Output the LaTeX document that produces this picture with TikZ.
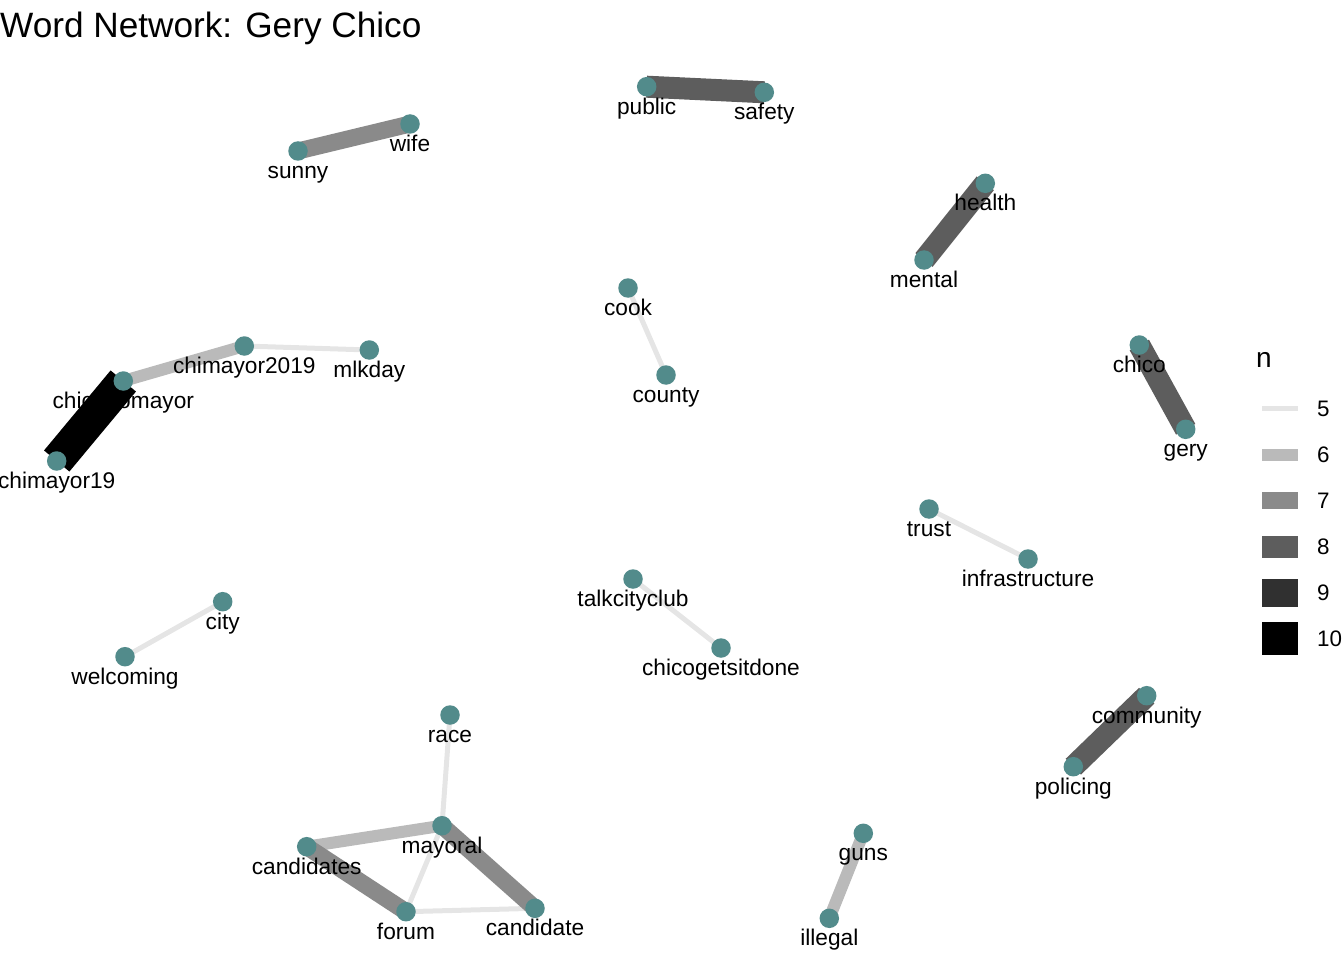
\documentclass[tikz,border=0pt]{standalone}
\usepackage{fontspec}
\setmainfont{Liberation Sans}
\usetikzlibrary{backgrounds}
\definecolor{nodecol}{HTML}{528B8B}
\definecolor{nfive}{HTML}{E5E5E5}
\definecolor{nsix}{HTML}{BABABA}
\definecolor{nseven}{HTML}{8A8A8A}
\definecolor{neight}{HTML}{5D5D5D}
\definecolor{nnine}{HTML}{303030}
\definecolor{nten}{HTML}{000000}
\begin{document}
\begin{tikzpicture}[x=1pt,y=-1pt,
  dot/.style={circle,fill=nodecol,inner sep=0pt,minimum size=19.5pt},
  lbl/.style={anchor=base,inner sep=0pt,font=\fontsize{22.7}{27}\selectfont},
  efive/.style={draw=nfive,line width=5pt,line cap=butt},
  esix/.style={draw=nsix,line width=12pt,line cap=butt},
  eseven/.style={draw=nseven,line width=17pt,line cap=butt},
  eeight/.style={draw=neight,line width=22pt,line cap=butt},
  eten/.style={draw=nten,line width=33pt,line cap=butt},
  keybox/.style={inner sep=0pt,minimum width=36pt},
  keytxt/.style={anchor=base west,inner sep=0pt,font=\fontsize{22.4}{26}\selectfont}]
\useasboundingbox (0,0) rectangle (1344,960);
\clip (0,0) rectangle (1344,960);

% nodes
\node[dot] (public) at (646.7,86.7) {};
\node[dot] (safety) at (764.3,92.3) {};
\node[dot] (sunny) at (298,151) {};
\node[dot] (wife) at (410,124) {};
\node[dot] (health) at (985.3,183.3) {};
\node[dot] (mental) at (924,260) {};
\node[dot] (cook) at (628,288) {};
\node[dot] (county) at (666,375) {};
\node[dot] (chimayor2019) at (244.3,346) {};
\node[dot] (mlkday) at (369.3,350) {};
\node[dot] (chicagomayor) at (123.3,381) {};
\node[dot] (chimayor19) at (56.7,461) {};
\node[dot] (chico) at (1139.3,345) {};
\node[dot] (gery) at (1185.7,429.3) {};
\node[dot] (trust) at (929,509) {};
\node[dot] (infrastructure) at (1028,559) {};
\node[dot] (talkcityclub) at (633,579) {};
\node[dot] (chicogetsitdone) at (721,648) {};
\node[dot] (city) at (222.7,601.7) {};
\node[dot] (welcoming) at (125,656.7) {};
\node[dot] (community) at (1146.7,695.7) {};
\node[dot] (policing) at (1073.3,766.7) {};
\node[dot] (race) at (450,715) {};
\node[dot] (mayoral) at (442,825.7) {};
\node[dot] (candidates) at (306.7,846.7) {};
\node[dot] (forum) at (406,911.7) {};
\node[dot] (candidate) at (535,908.3) {};
\node[dot] (guns) at (863.3,833.3) {};
\node[dot] (illegal) at (829.3,918.3) {};

% edges
\begin{pgfonlayer}{background}
\draw[eeight] (public.center) -- (safety.center);
\draw[eseven] (sunny.center) -- (wife.center);
\draw[eeight] (health.center) -- (mental.center);
\draw[efive] (cook.center) -- (county.center);
\draw[efive] (chimayor2019.center) -- (mlkday.center);
\draw[esix] (chicagomayor.center) -- (chimayor2019.center);
\draw[eten] (chimayor19.center) -- (chicagomayor.center);
\draw[eeight] (chico.center) -- (gery.center);
\draw[efive] (trust.center) -- (infrastructure.center);
\draw[efive] (talkcityclub.center) -- (chicogetsitdone.center);
\draw[efive] (city.center) -- (welcoming.center);
\draw[eeight] (community.center) -- (policing.center);
\draw[efive] (race.center) -- (mayoral.center);
\draw[efive] (mayoral.center) -- (forum.center);
\draw[efive] (forum.center) -- (candidate.center);
\draw[esix] (candidates.center) -- (mayoral.center);
\draw[eseven] (mayoral.center) -- (candidate.center);
\draw[eseven] (candidates.center) -- (forum.center);
\draw[esix] (guns.center) -- (illegal.center);
\end{pgfonlayer}

% labels
\foreach \n in {public,safety,sunny,wife,health,mental,cook,county,chimayor2019,mlkday,chicagomayor,chimayor19,chico,gery,trust,infrastructure,talkcityclub,chicogetsitdone,city,welcoming,community,policing,race,mayoral,candidates,forum,candidate,guns,illegal}
  \node[lbl] (l-\n) at ([yshift=-27.5pt]\n.center) {\n};

% title
\node[anchor=base west,inner sep=0pt,font=\fontsize{35.2}{42}\selectfont] (title) at (0,38) {Word Network: Gery Chico};

% legend
\node[anchor=base west,inner sep=0pt,font=\fontsize{28}{32}\selectfont] (legtitle) at (1256,367) {n};
\node[keybox,fill=nfive,minimum height=5pt] (k5) at (1280,408.5) {};
\node[keybox,fill=nsix,minimum height=12pt] (k6) at (1280,454.5) {};
\node[keybox,fill=nseven,minimum height=17pt] (k7) at (1280,500.5) {};
\node[keybox,fill=neight,minimum height=22pt] (k8) at (1280,546.5) {};
\node[keybox,fill=nnine,minimum height=28pt] (k9) at (1280,592.5) {};
\node[keybox,fill=nten,minimum height=33pt] (k10) at (1280,638.5) {};
\node[keytxt] (t5) at (1317,416.5) {5};
\node[keytxt] (t6) at (1317,462.5) {6};
\node[keytxt] (t7) at (1317,508.5) {7};
\node[keytxt] (t8) at (1317,554.5) {8};
\node[keytxt] (t9) at (1317,600.5) {9};
\node[keytxt] (t10) at (1317,646.5) {10};
\end{tikzpicture}
\end{document}
